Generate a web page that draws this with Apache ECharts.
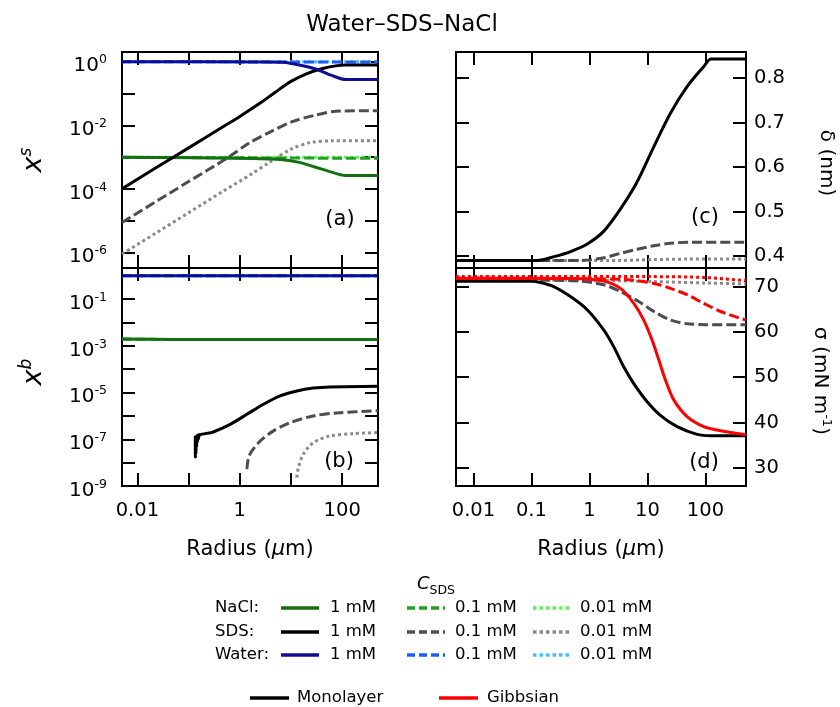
<!DOCTYPE html>
<html>
<head>
<meta charset="utf-8">
<title>Water–SDS–NaCl</title>
<script src="https://cdn.jsdelivr.net/npm/echarts@6/dist/echarts.min.js"></script>
<style>
  html, body { margin: 0; padding: 0; background: #fff; }
  #chart { width: 840px; height: 707px; }
</style>
</head>
<body>
<div id="chart"></div>
<script>
const FONT = '"DejaVu Sans", "Noto Sans", sans-serif';

// ---- axes -------------------------------------------------------------
const radiusMin = 0.005, radiusMax = 500;               // µm, all panels
const radiusTicks = [0.01, 0.1, 1, 10, 100];
const radiusLabelsLeft = [0.01, 1, 100];
const radiusLabelsRight = [0.01, 0.1, 1, 10, 100];

const xsMin = 3.24e-7, xsMax = 2.02;                     // panel (a)
const xsTicks = [1e-6, 1e-5, 1e-4, 1e-3, 1e-2, 1e-1, 1];
const xsTickLabels = [1e-6, 1e-4, 1e-2, 1];

const xbMin = 1e-9, xbMax = 2.14;                        // panel (b)
const xbTicks = [1e-9, 1e-8, 1e-7, 1e-6, 1e-5, 1e-4, 1e-3, 1e-2, 1e-1, 1];
const xbTickLabels = [1e-9, 1e-7, 1e-5, 1e-3, 1e-1];

const deltaMin = 0.373, deltaMax = 0.859;                // panel (c), nm
const deltaTicks = [0.4, 0.5, 0.6, 0.7, 0.8];

const sigmaMin = 26, sigmaMax = 74.1;                    // panel (d), mN/m
const sigmaTicks = [30, 40, 50, 60, 70];

// ---- (a) surface mole fraction x^s vs radius [radius, x] ---------------
const xsSds1   = [[0.005,1.0e-4],[0.0226,4.5e-4],[0.1,1.95e-3],[0.444,8.5e-3],[1,0.019],[2.5,0.05],[5,0.112],[10,0.24],[20,0.417],[40,0.6],[74,0.74],[115,0.79],[500,0.79]];
const xsSds01  = [[0.005,8.7e-6],[0.0226,3.9e-5],[0.1,1.7e-4],[0.555,9.1e-4],[1.55,2.82e-3],[3.8,6.0e-3],[10,0.0126],[30.2,0.0209],[74.1,0.0275],[500,0.0288]];
const xsSds001 = [[0.005,8.9e-7],[0.0226,4.0e-6],[0.1,1.78e-5],[0.444,7.9e-5],[1.7,2.95e-4],[3.8,6.8e-4],[10,1.78e-3],[24.5,2.88e-3],[64.6,3.24e-3],[500,3.24e-3]];
const xsWater1   = [[0.005,0.99],[3.2,0.985],[6.9,0.955],[14.5,0.79],[30.2,0.59],[64.6,0.363],[117,0.275],[500,0.275]];
const xsWater01  = [[0.005,0.99],[30,0.985],[500,0.975]];
const xsWater001 = [[0.005,0.99],[500,0.988]];
const xsNacl1   = [[0.005,9.8e-4],[1.7,9.1e-4],[6.9,8.3e-4],[14.5,6.8e-4],[30.2,4.8e-4],[64.6,3.3e-4],[117,2.63e-4],[500,2.63e-4]];
const xsNacl01  = [[0.005,9.8e-4],[500,9.1e-4]];
const xsNacl001 = [[0.005,9.9e-4],[500,9.8e-4]];

// ---- (b) bulk mole fraction x^b vs radius ------------------------------
const xbWater = [[0.005,0.998],[500,0.998]];
const xbNacl  = [[0.005,1.95e-3],[0.05,1.87e-3],[500,1.86e-3]];
const xbSds1Onset = [[0.1349,1.41e-7],[0.1355,1.74e-8],[0.1374,1.26e-7],[0.1387,2.5e-8],[0.1413,1.32e-7],[0.1426,5.0e-8],[0.1462,1.41e-7],[0.1479,7.9e-8],[0.1531,1.51e-7],[0.1549,1.05e-7],[0.1622,1.58e-7],[0.2858,1.95e-7]];
const xbSds1   = [[0.2858,1.95e-7],[0.65,4.37e-7],[1.374,1.17e-6],[2.9,3.16e-6],[6.12,7.24e-6],[13.0,1.17e-5],[27.4,1.55e-5],[57.5,1.74e-5],[500,1.86e-5]];
const xbSds01  = [[1.374,5.25e-9],[1.479,1.62e-8],[1.72,3.16e-8],[2.51,8.5e-8],[4.54,2.29e-7],[9.6,5.13e-7],[27.4,1.0e-6],[90.6,1.38e-6],[500,1.66e-6]];
const xbSds001 = [[13.0,2.29e-9],[13.96,6.17e-9],[17.4,2.29e-8],[27.4,7.24e-8],[57.5,1.38e-7],[164,1.74e-7],[500,1.95e-7]];

// ---- (c) monolayer thickness δ (nm) -----------------------------------
const deltaSds1   = [[0.005,0.39],[0.126,0.39],[0.244,0.3985],[0.473,0.41],[0.916,0.427],[1.77,0.456],[3.43,0.506],[6.65,0.567],[12.9,0.646],[24.9,0.721],[48.2,0.781],[93.3,0.826],[125,0.843],[500,0.843]];
const deltaSds01  = [[0.005,0.39],[0.71,0.39],[1.77,0.396],[3.43,0.406],[6.65,0.415],[12.9,0.423],[24.9,0.4285],[48.2,0.431],[500,0.431]];
const deltaSds001 = [[0.005,0.39],[3.4,0.39],[12.9,0.392],[48.2,0.393],[500,0.393]];

// ---- (d) surface tension σ (mN m^-1) ---------------------------------
const sigmaMono1   = [[0.005,71.2],[0.1,71.2],[0.143,70.9],[0.242,70.0],[0.47,67.8],[0.912,64.9],[1.77,60.4],[2.63,56.7],[3.89,52.3],[5.81,48.6],[9.89,44.6],[16.7,41.6],[32.5,39.1],[71.9,37.4],[123,37.1],[500,37.1]];
const sigmaMono01  = [[0.005,71.5],[0.5,71.3],[1.77,70.4],[3.42,68.9],[7.08,66.7],[12.9,64.5],[25,62.6],[48.3,61.8],[100,61.6],[500,61.6]];
const sigmaMono001 = [[0.005,71.6],[1,71.4],[13.4,71.1],[97.7,70.8],[500,70.6]];
const sigmaGibbs1   = [[0.005,71.8],[0.5,71.8],[1.77,71.2],[3.42,69.6],[5.81,66.3],[8.63,62.6],[12.0,58.2],[15.7,53.8],[20.4,49.4],[28.4,45.0],[48.3,41.3],[93.3,39.1],[182,38.2],[500,37.3]];
const sigmaGibbs01  = [[0.005,71.9],[3.58,71.6],[12.9,70.7],[25,69.6],[48.3,68.2],[93.3,66.3],[182,64.5],[500,62.6]];
const sigmaGibbs001 = [[0.005,72.2],[10,72.2],[100,72.0],[500,71.3]];

// ---- legend text -------------------------------------------------------
const legendRows = ['NaCl:', 'SDS:', 'Water:'];
const legendConc = ['1 mM', '0.1 mM', '0.01 mM'];
const legendMethods = ['Monolayer', 'Gibbsian'];

// ---- styles ------------------------------------------------------------
const COLORS = {
  nacl:  ['#146e14', '#22a022', '#5cf25c'],
  sds:   ['#000000', '#4d4d4d', '#8a8a8a'],
  water: ['#0d0d94', '#1f5cff', '#45bdff'],
  gibbs: ['#ff0000', '#ff0000', '#ff0000']
};
const DASH = ['solid', [10, 4], [3, 3]];
const LEGEND_DASH = ['solid', [8, 4], [3.5, 3]];

// grid rectangles: (a) (b) left column, (c) (d) right column
const GRIDS = [
  { left: 122, top: 52,  width: 256, height: 216 },
  { left: 122, top: 268, width: 256, height: 218 },
  { left: 456, top: 52,  width: 290, height: 216 },
  { left: 456, top: 268, width: 290, height: 218 }
];

const tickStyle = (values) => ({
  show: true, inside: true, length: 13, customValues: values,
  lineStyle: { color: '#000', width: 2 }
});

const powRich = {
  b: { fontFamily: FONT, fontSize: 20, lineHeight: 25, color: '#000' },
  e: { fontFamily: FONT, fontSize: 12.5, lineHeight: 12, verticalAlign: 'top', color: '#000' }
};
function powLabel(v) {
  const e = Math.round(Math.log10(v));
  return '{b|10}{e|' + e + '}';
}
function plainNumber(v) {
  return String(parseFloat(Number(v).toPrecision(4)));
}

function radiusAxis(grid, position, labels) {
  return {
    type: 'log', logBase: 10, gridIndex: grid, position: position,
    min: radiusMin, max: radiusMax,
    axisLine: { show: false }, splitLine: { show: false },
    minorTick: { show: false }, minorSplitLine: { show: false },
    axisTick: tickStyle(radiusTicks),
    axisLabel: labels ? {
      show: true, customValues: labels, formatter: plainNumber,
      fontFamily: FONT, fontSize: 19.5, color: '#000', margin: 15
    } : { show: false }
  };
}

function valueAxis(grid, position, type, min, max, ticks, labels, formatter, opts) {
  return Object.assign({
    type: type, gridIndex: grid, position: position, min: min, max: max,
    axisLine: { show: false }, splitLine: { show: false },
    minorTick: { show: false }, minorSplitLine: { show: false },
    axisTick: tickStyle(ticks),
    axisLabel: labels ? Object.assign({
      show: true, customValues: labels, formatter: formatter,
      fontFamily: FONT, fontSize: 19.5, color: '#000'
    }, opts || {}) : { show: false }
  }, type === 'log' ? { logBase: 10 } : {});
}

const xAxes = [
  radiusAxis(0, 'bottom', null), radiusAxis(0, 'top', null),
  radiusAxis(1, 'bottom', radiusLabelsLeft), radiusAxis(1, 'top', null),
  radiusAxis(2, 'bottom', null), radiusAxis(2, 'top', null),
  radiusAxis(3, 'bottom', radiusLabelsRight), radiusAxis(3, 'top', null)
];

const leftPowOpts = { margin: 15, rich: powRich, padding: [9, 0, 0, 0] };
const yAxes = [
  valueAxis(0, 'left',  'log', xsMin, xsMax, xsTicks, xsTickLabels, powLabel, leftPowOpts),
  valueAxis(0, 'right', 'log', xsMin, xsMax, xsTicks, null),
  valueAxis(1, 'left',  'log', xbMin, xbMax, xbTicks, xbTickLabels, powLabel, leftPowOpts),
  valueAxis(1, 'right', 'log', xbMin, xbMax, xbTicks, null),
  valueAxis(2, 'left',  'value', deltaMin, deltaMax, deltaTicks, null),
  valueAxis(2, 'right', 'value', deltaMin, deltaMax, deltaTicks, deltaTicks, v => Number(v).toFixed(1), { margin: 8 }),
  valueAxis(3, 'left',  'value', sigmaMin, sigmaMax, sigmaTicks, null),
  valueAxis(3, 'right', 'value', sigmaMin, sigmaMax, sigmaTicks, sigmaTicks, v => String(Math.round(v)), { margin: 8 })
];

function curve(name, data, grid, palette, k, smooth) {
  return {
    type: 'line', name: name, data: data,
    xAxisIndex: 2 * grid, yAxisIndex: 2 * grid,
    symbol: 'none', showSymbol: false, silent: true,
    smooth: smooth === false ? false : 0.3,
    lineStyle: { color: COLORS[palette][k], width: 3, type: DASH[k], cap: 'butt', join: 'round' },
    emphasis: { disabled: true }
  };
}

const series = [
  // (a)
  curve('NaCl 0.01 mM', xsNacl001, 0, 'nacl', 2),
  curve('Water 0.01 mM', xsWater001, 0, 'water', 2),
  curve('SDS 0.01 mM', xsSds001, 0, 'sds', 2),
  curve('NaCl 0.1 mM', xsNacl01, 0, 'nacl', 1),
  curve('Water 0.1 mM', xsWater01, 0, 'water', 1),
  curve('SDS 0.1 mM', xsSds01, 0, 'sds', 1),
  curve('NaCl 1 mM', xsNacl1, 0, 'nacl', 0),
  curve('SDS 1 mM', xsSds1, 0, 'sds', 0),
  curve('Water 1 mM', xsWater1, 0, 'water', 0),
  // (b)
  curve('NaCl 0.01 mM', xbNacl, 1, 'nacl', 2),
  curve('Water 0.01 mM', xbWater, 1, 'water', 2),
  curve('SDS 0.01 mM', xbSds001, 1, 'sds', 2),
  curve('NaCl 0.1 mM', xbNacl, 1, 'nacl', 1),
  curve('Water 0.1 mM', xbWater, 1, 'water', 1),
  curve('SDS 0.1 mM', xbSds01, 1, 'sds', 1),
  curve('NaCl 1 mM', xbNacl, 1, 'nacl', 0),
  curve('Water 1 mM', xbWater, 1, 'water', 0),
  curve('SDS 1 mM onset', xbSds1Onset, 1, 'sds', 0, false),
  curve('SDS 1 mM', xbSds1, 1, 'sds', 0),
  // (c)
  curve('SDS 0.01 mM', deltaSds001, 2, 'sds', 2),
  curve('SDS 0.1 mM', deltaSds01, 2, 'sds', 1),
  curve('SDS 1 mM', deltaSds1, 2, 'sds', 0),
  // (d)
  curve('Monolayer 0.01 mM', sigmaMono001, 3, 'sds', 2),
  curve('Monolayer 0.1 mM', sigmaMono01, 3, 'sds', 1),
  curve('Monolayer 1 mM', sigmaMono1, 3, 'sds', 0),
  curve('Gibbsian 0.01 mM', sigmaGibbs001, 3, 'gibbs', 2),
  curve('Gibbsian 0.1 mM', sigmaGibbs01, 3, 'gibbs', 1),
  curve('Gibbsian 1 mM', sigmaGibbs1, 3, 'gibbs', 0)
];

// ---- text and legend drawn as graphic elements ---------------------------
function txt(x, y, text, size, styleExtra, rotation) {
  return {
    type: 'text', x: x, y: y, rotation: rotation || 0, silent: true,
    style: Object.assign({
      text: text, fontFamily: FONT, fontSize: size, fill: '#000',
      align: 'left', verticalAlign: 'middle'
    }, styleExtra || {})
  };
}
function seg(x1, x2, y, color, dash) {
  return {
    type: 'line', silent: true,
    shape: { x1: x1, y1: y, x2: x2, y2: y },
    style: { stroke: color, lineWidth: 3.5, lineDash: dash === 'solid' ? null : dash, lineCap: 'butt' }
  };
}

const graphics = [];
graphics.push(txt(402, 25, 'Water–SDS–NaCl', 23, { align: 'center' }));

// panel tags
graphics.push(txt(340, 220, '(a)', 21, { align: 'center' }));
graphics.push(txt(339, 462, '(b)', 21, { align: 'center' }));
graphics.push(txt(705, 218, '(c)', 21, { align: 'center' }));
graphics.push(txt(704, 463, '(d)', 21, { align: 'center' }));

// axis titles
const radiusRich = {
  n: { fontFamily: FONT, fontSize: 21, fill: '#000' },
  i: { fontFamily: FONT, fontSize: 21, fontStyle: 'italic', fill: '#000' }
};
graphics.push(txt(250, 550, '{n|Radius (}{i|μ}{n|m)}', 21, { align: 'center', rich: radiusRich }));
graphics.push(txt(601, 550, '{n|Radius (}{i|μ}{n|m)}', 21, { align: 'center', rich: radiusRich }));

const varRich = {
  x: { fontFamily: FONT, fontSize: 27, fontStyle: 'italic', fill: '#000', lineHeight: 32 },
  s: { fontFamily: FONT, fontSize: 17, fontStyle: 'italic', fill: '#000', lineHeight: 17, verticalAlign: 'top' }
};
graphics.push(txt(34, 160, '{x|x}{s|s}', 27, { align: 'center', rich: varRich }, Math.PI / 2));
graphics.push(txt(34, 372, '{x|x}{s|b}', 27, { align: 'center', rich: varRich }, Math.PI / 2));

graphics.push(txt(826, 163, 'δ (nm)', 20, { align: 'center' }, -Math.PI / 2));
const sigmaRich = {
  n: { fontFamily: FONT, fontSize: 20, fill: '#000', lineHeight: 26 },
  e: { fontFamily: FONT, fontSize: 13, fill: '#000', lineHeight: 13, verticalAlign: 'top' }
};
graphics.push(txt(820, 381, '{n|σ (mN m}{e|-1}{n|)}', 20, { align: 'center', rich: sigmaRich }, -Math.PI / 2));

// legend
const headRich = {
  c: { fontFamily: FONT, fontSize: 18, fontStyle: 'italic', fill: '#000', lineHeight: 22, verticalAlign: 'top' },
  s: { fontFamily: FONT, fontSize: 12.5, fill: '#000', lineHeight: 12, verticalAlign: 'bottom' }
};
graphics.push(txt(436, 586, '{c|C}{s|SDS}', 18, { align: 'center', rich: headRich }));

const rowY = [608, 632, 655];
const rowPalette = ['nacl', 'sds', 'water'];
const colLine = [[281, 319], [407, 445], [533, 571]];
const colText = [330, 455, 580];
legendRows.forEach((label, r) => {
  graphics.push(txt(215, rowY[r], label, 16.5));
  legendConc.forEach((conc, c) => {
    graphics.push(seg(colLine[c][0], colLine[c][1], rowY[r], COLORS[rowPalette[r]][c], LEGEND_DASH[c]));
    graphics.push(txt(colText[c], rowY[r], conc, 16.5));
  });
});
graphics.push(seg(250, 289, 698, '#000000', 'solid'));
graphics.push(txt(297, 698, legendMethods[0], 16.5));
graphics.push(seg(439, 478, 698, '#ff0000', 'solid'));
graphics.push(txt(487, 698, legendMethods[1], 16.5));

const chart = echarts.init(document.getElementById('chart'), null, { renderer: 'canvas', width: 840, height: 707 });
chart.setOption({
  animation: false,
  backgroundColor: '#ffffff',
  textStyle: { fontFamily: FONT },
  grid: GRIDS.map(g => Object.assign({
    show: true, borderColor: '#000', borderWidth: 2, backgroundColor: 'transparent',
    containLabel: false, outerBoundsMode: 'none'
  }, g)),
  xAxis: xAxes,
  yAxis: yAxes,
  series: series,
  graphic: { elements: graphics }
});
</script>
</body>
</html>
